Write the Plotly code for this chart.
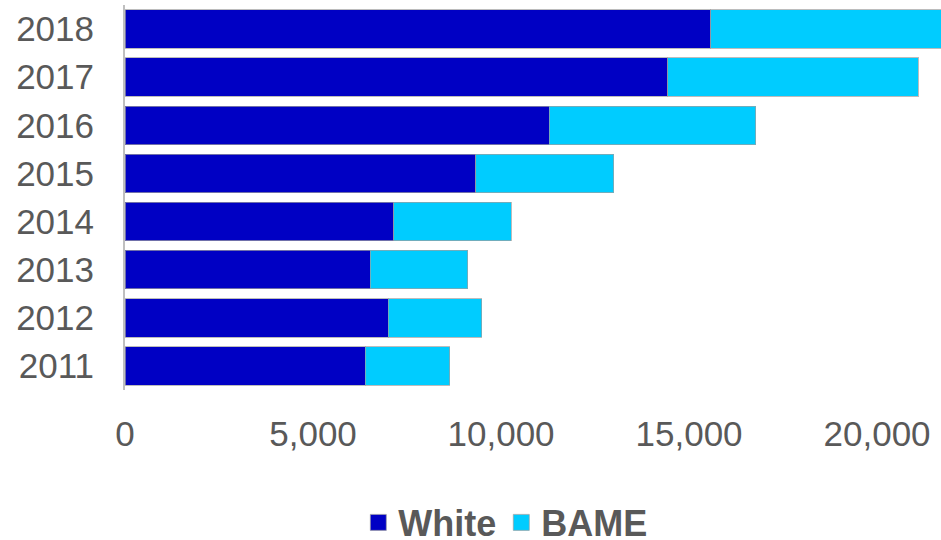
import plotly.graph_objects as go

years = ["2011", "2012", "2013", "2014", "2015", "2016", "2017", "2018"]
white = [6390, 7005, 6525, 7145, 9325, 11280, 14430, 15580]
bame = [2245, 2480, 2590, 3130, 3675, 5490, 6670, 6300]
x_ticks = [0, 5000, 10000, 15000, 20000]
x_tick_text = ["0", "5,000", "10,000", "15,000", "20,000"]

series_names = ["White", "BAME"]
series_colors = ["#0000C4", "#00CCFF"]

text_grey = "#595959"
font_family = "Liberation Sans, Arial, sans-serif"
edge = dict(color="rgba(160,160,160,0.7)", width=1)

fig = go.Figure()
for name, vals, col in zip(series_names, [white, bame], series_colors):
    fig.add_trace(go.Bar(
        y=years, x=vals, name=name, orientation="h",
        marker=dict(color=col, line=edge),
        showlegend=False,
    ))

# square legend keys
for name, col in zip(series_names, series_colors):
    fig.add_trace(go.Scatter(
        x=[None], y=[None], name=name, mode="markers",
        marker=dict(symbol="square", size=16, color=col,
                    line=dict(color="rgba(160,160,160,0.7)", width=1)),
        showlegend=True, hoverinfo="skip",
    ))

fig.update_layout(
    barmode="stack",
    bargap=0.2,
    width=941, height=540,
    margin=dict(l=125, r=0, t=5, b=150),
    plot_bgcolor="white",
    paper_bgcolor="white",
    font=dict(family=font_family, color=text_grey),
    legend=dict(
        orientation="h",
        xref="container", yref="container",
        x=0.537, xanchor="center",
        y=0.088, yanchor="top",
        font=dict(size=36, family=font_family, color=text_grey, weight="bold"),
        itemwidth=30,
        traceorder="normal",
    ),
)
fig.update_xaxes(
    range=[0, 21700],
    tickvals=x_ticks, ticktext=x_tick_text,
    showgrid=False, zeroline=False, showline=False,
    ticks="", ticklabelstandoff=20,
    tickfont=dict(size=35, color=text_grey),
    fixedrange=True,
)
fig.update_yaxes(
    type="category",
    categoryorder="array", categoryarray=years,
    showgrid=False, zeroline=False,
    showline=True, linecolor="#BFBFBF", linewidth=2,
    ticks="", ticklabelstandoff=22,
    tickfont=dict(size=35, color=text_grey),
    fixedrange=True,
)

fig.write_html("out.html")
